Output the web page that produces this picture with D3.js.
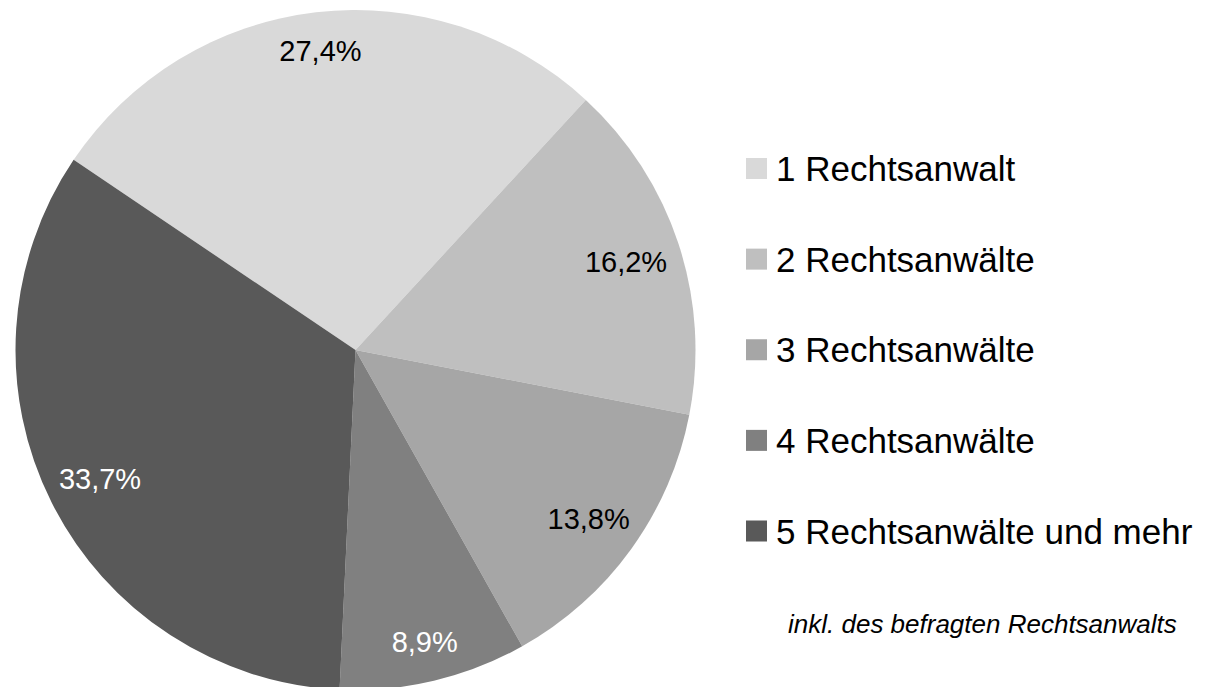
<!DOCTYPE html>
<html lang="de">
<head>
<meta charset="utf-8">
<script src="https://cdn.jsdelivr.net/npm/d3@7"></script>
<style>
  html, body { margin: 0; padding: 0; background: #ffffff; }
  svg { display: block; font-family: "Liberation Sans", Arial, sans-serif; }
</style>
</head>
<body>
<svg id="chart" width="1209" height="687"></svg>
<script>
// Kanzleigröße: Anzahl der Rechtsanwälte (Anteile in %)
const categories = [
  "1 Rechtsanwalt",
  "2 Rechtsanwälte",
  "3 Rechtsanwälte",
  "4 Rechtsanwälte",
  "5 Rechtsanwälte und mehr"
];
const shares = [27.4, 16.2, 13.8, 8.9, 33.7];
const sliceColors = ["#d9d9d9", "#bfbfbf", "#a6a6a6", "#808080", "#595959"];
const labelColors = ["#000000", "#000000", "#000000", "#ffffff", "#ffffff"];
const note = "inkl. des befragten Rechtsanwalts";

const svg = d3.select("#chart");
const cx = 355.5, cy = 350, radius = 340;

const de = d3.formatLocale({ decimal: ",", thousands: ".", grouping: [3], currency: ["", " €"] });
const fmt = de.format(".1f");

const data = categories.map((c, i) => ({ name: c, value: shares[i], i }));

const startAngle = -56 * Math.PI / 180;
const pie = d3.pie()
  .sort(null)
  .value(d => d.value)
  .startAngle(startAngle)
  .endAngle(startAngle + 2 * Math.PI);
const arcs = pie(data);

const arc = d3.arc().innerRadius(0).outerRadius(radius);

const g = svg.append("g").attr("transform", `translate(${cx},${cy})`);

g.selectAll("path.slice")
  .data(arcs)
  .join("path")
  .attr("class", "slice")
  .attr("d", arc)
  .attr("fill", d => sliceColors[d.data.i]);

// Datenbeschriftungen innen am Rand der Segmente;
// breite Beschriftungen an seitlichen Segmenten rücken etwas nach innen
const labels = g.selectAll("text.value")
  .data(arcs)
  .join("text")
  .attr("class", "value")
  .attr("text-anchor", "middle")
  .attr("dy", "0.36em")
  .style("font-size", "29px")
  .attr("fill", d => labelColors[d.data.i])
  .text(d => fmt(d.data.value) + "%");

labels.each(function(d) {
  const mid = (d.startAngle + d.endAngle) / 2;
  const w = this.getComputedTextLength();
  const r = 303.5 - 0.48 * Math.abs(Math.sin(mid)) * w / 2;
  d3.select(this)
    .attr("x", r * Math.sin(mid))
    .attr("y", -r * Math.cos(mid));
});

// Legende
const rowY = d3.scalePoint().domain(categories).range([168.5, 531]);
const legend = svg.append("g");
const rows = legend.selectAll("g.row")
  .data(data)
  .join("g")
  .attr("class", "row")
  .attr("transform", d => `translate(746,${rowY(d.name)})`);

rows.append("rect")
  .attr("x", 0)
  .attr("y", -10.5)
  .attr("width", 21)
  .attr("height", 21)
  .attr("fill", d => sliceColors[d.i]);

rows.append("text")
  .attr("x", 30)
  .attr("dy", "0.36em")
  .style("font-size", "35px")
  .attr("fill", "#000000")
  .text(d => d.name);

// Fußnote
svg.append("text")
  .attr("x", 788)
  .attr("y", 633)
  .style("font-size", "26px")
  .style("font-style", "italic")
  .attr("fill", "#000000")
  .text(note);
</script>
</body>
</html>
